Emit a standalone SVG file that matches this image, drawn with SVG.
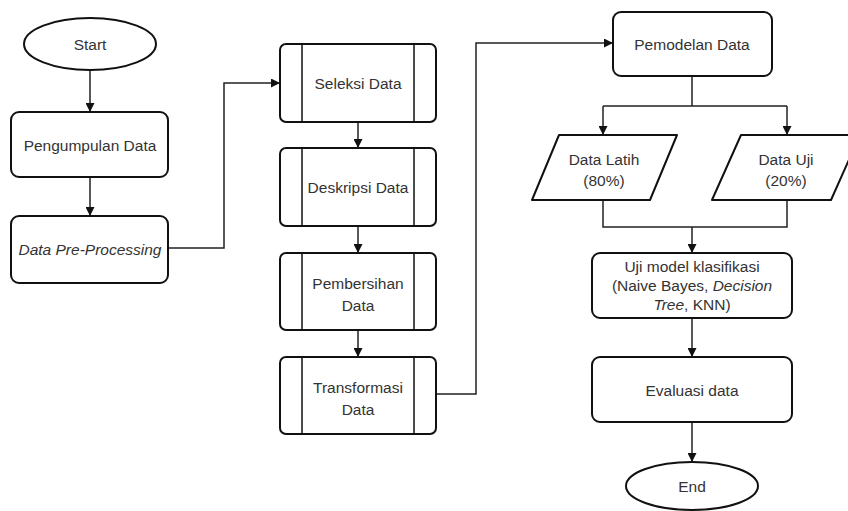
<svg xmlns="http://www.w3.org/2000/svg" width="848" height="511" viewBox="0 0 848 511">
<defs>
<marker id="ah" viewBox="0 0 10 10" refX="10" refY="5" markerWidth="9" markerHeight="9" markerUnits="userSpaceOnUse" orient="auto">
<path d="M0,0 L10,5 L0,10 Z" fill="#111"/>
</marker>
</defs>
<style>
.sh{fill:#fff;stroke:#111;stroke-width:2}
.in{fill:none;stroke:#111;stroke-width:1.5}
.cn{fill:none;stroke:#222;stroke-width:1.5;marker-end:url(#ah)}
.ln{fill:none;stroke:#222;stroke-width:1.5}
text{font-family:"Liberation Sans",Arial,sans-serif;font-size:15.5px;fill:#333;text-anchor:middle}
.it{font-style:italic}
</style>
<rect width="848" height="511" fill="#fff"/>
<g id="connectors">
<path class="cn" d="M90,70 V112"/>
<path class="cn" d="M90,177 V216"/>
<path class="cn" d="M168,248 H224 V83 H280"/>
<path class="cn" d="M358,122 V148"/>
<path class="cn" d="M358,226 V253"/>
<path class="cn" d="M358,330 V357"/>
<path class="cn" d="M436,394 H476 V43 H613"/>
<path class="ln" d="M692,76 V106 M603,106 H787"/>
<path class="cn" d="M603,106 V135"/>
<path class="cn" d="M787,106 V135"/>
<path class="ln" d="M603,200 V227 H787 V200"/>
<path class="cn" d="M692,227 V253"/>
<path class="cn" d="M692,318 V357"/>
<path class="cn" d="M692,422 V462"/>
</g>
<g id="start">
<ellipse class="sh" cx="90" cy="44" rx="66" ry="26"/>
<text x="90" y="49.5">Start</text>
</g>
<g id="pengumpulan">
<rect class="sh" x="11" y="112" width="157" height="65" rx="8"/>
<text x="90" y="150.5">Pengumpulan Data</text>
</g>
<g id="preprocessing">
<rect class="sh" x="11" y="216" width="157" height="67" rx="8"/>
<text class="it" x="90" y="254.5">Data Pre-Processing</text>
</g>
<g id="seleksi">
<rect class="sh" x="280" y="44" width="156" height="78" rx="6"/>
<path class="in" d="M302,44 V122 M414,44 V122"/>
<text x="358" y="88.5">Seleksi Data</text>
</g>
<g id="deskripsi">
<rect class="sh" x="280" y="148" width="156" height="78" rx="6"/>
<path class="in" d="M302,148 V226 M414,148 V226"/>
<text x="358" y="192.5">Deskripsi Data</text>
</g>
<g id="pembersihan">
<rect class="sh" x="280" y="253" width="156" height="77" rx="6"/>
<path class="in" d="M302,253 V330 M414,253 V330"/>
<text x="358" y="288.5">Pembersihan</text>
<text x="358" y="310.5">Data</text>
</g>
<g id="transformasi">
<rect class="sh" x="280" y="357" width="156" height="77" rx="6"/>
<path class="in" d="M302,357 V434 M414,357 V434"/>
<text x="358" y="392.5">Transformasi</text>
<text x="358" y="414.5">Data</text>
</g>
<g id="pemodelan">
<rect class="sh" x="613" y="12" width="159" height="64" rx="8"/>
<text x="692" y="49.5">Pemodelan Data</text>
</g>
<g id="datalatih">
<path class="sh" d="M559,135 H677 L650,200 H532 Z" stroke-linejoin="round"/>
<text x="604" y="164.5">Data Latih</text>
<text x="604" y="185.5">(80%)</text>
</g>
<g id="datauji">
<path class="sh" d="M741,135 H860 L831,200 H712 Z" stroke-linejoin="round"/>
<text x="786" y="164.5">Data Uji</text>
<text x="786" y="185.5">(20%)</text>
</g>
<g id="ujimodel">
<rect class="sh" x="592" y="253" width="200" height="65" rx="8"/>
<text x="692" y="272">Uji model klasifikasi</text>
<text x="692" y="291">(Naive Bayes, <tspan class="it">Decision</tspan></text>
<text x="692" y="310"><tspan class="it">Tree</tspan>, KNN)</text>
</g>
<g id="evaluasi">
<rect class="sh" x="592" y="357" width="200" height="65" rx="8"/>
<text x="692" y="395.5">Evaluasi data</text>
</g>
<g id="end">
<ellipse class="sh" cx="692" cy="486" rx="66" ry="24"/>
<text x="692" y="491.5">End</text>
</g>
</svg>
